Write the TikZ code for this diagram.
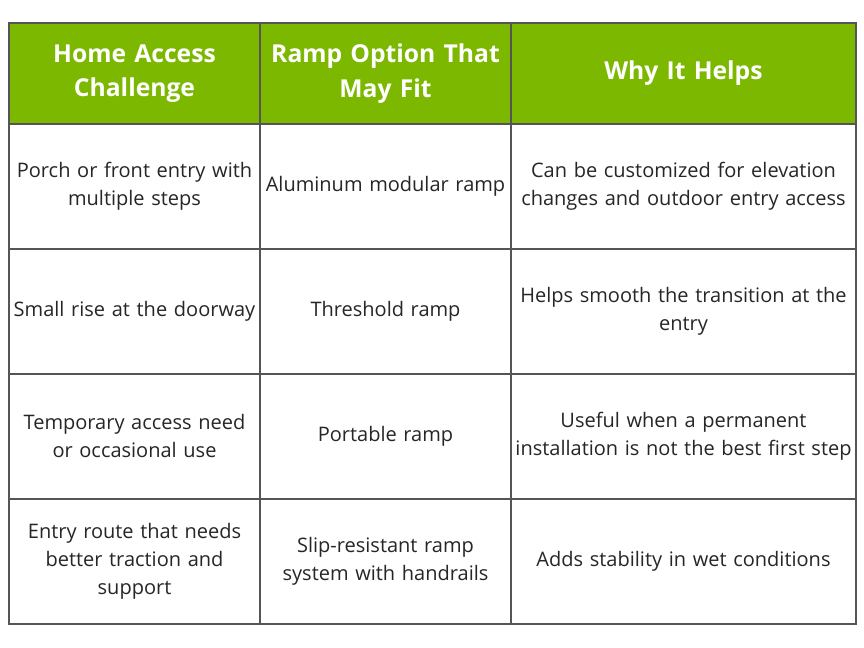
\documentclass[tikz,border=0pt]{standalone}
\usepackage{fontspec}
\setmainfont{Open Sans}
\usetikzlibrary{positioning}
\definecolor{hdrgreen}{HTML}{7CB800}
\definecolor{gridgray}{HTML}{555555}
\begin{document}
\begin{tikzpicture}[x=0.75pt,y=-0.75pt,
  hdr/.style={text=white,font=\fontsize{18.5}{26}\selectfont\bfseries,align=center,text width=185pt},
  cell/.style={text=black!85,font=\fontsize{15}{21}\selectfont,align=center,text width=186pt}]
  \useasboundingbox (0,0) rectangle (864,648);
  \fill[white] (0,0) rectangle (864,648);
  \fill[hdrgreen] (9,23) rectangle (856,124);
  % grid
  \draw[gridgray,line width=0.8pt] (9,23) rectangle (856,624);
  \foreach \y in {124,249,374,499} \draw[gridgray,line width=0.8pt] (9,\y) -- (856,\y);
  \foreach \x in {260,511} \draw[gridgray,line width=0.8pt] (\x,23) -- (\x,624);
  % header
  \node[hdr] (h1) at (134.5,73.5) {Home Access\\Challenge};
  \node[hdr] (h2) at (385.5,73.5) {Ramp Option That\\May Fit};
  \node[hdr] (h3) at (683.5,73.5) {Why It Helps};
  % row 1
  \node[cell] (a1) at (134.5,186.5) {Porch or front entry with\\multiple steps};
  \node[cell] (b1) at (385.5,186.5) {Aluminum modular ramp};
  \node[cell,text width=260pt] (c1) at (683.5,186.5) {Can be customized for elevation\\changes and outdoor entry access};
  % row 2
  \node[cell] (a2) at (134.5,311.5) {Small rise at the doorway};
  \node[cell] (b2) at (385.5,311.5) {Threshold ramp};
  \node[cell,text width=260pt] (c2) at (683.5,311.5) {Helps smooth the transition at the\\entry};
  % row 3
  \node[cell] (a3) at (134.5,436.5) {Temporary access need\\or occasional use};
  \node[cell] (b3) at (385.5,436.5) {Portable ramp};
  \node[cell,text width=260pt] (c3) at (683.5,436.5) {Useful when a permanent\\installation is not the best first step};
  % row 4
  \node[cell] (a4) at (134.5,561.5) {Entry route that needs\\better traction and\\support};
  \node[cell] (b4) at (385.5,561.5) {Slip-resistant ramp\\system with handrails};
  \node[cell,text width=260pt] (c4) at (683.5,561.5) {Adds stability in wet conditions};
\end{tikzpicture}
\end{document}
